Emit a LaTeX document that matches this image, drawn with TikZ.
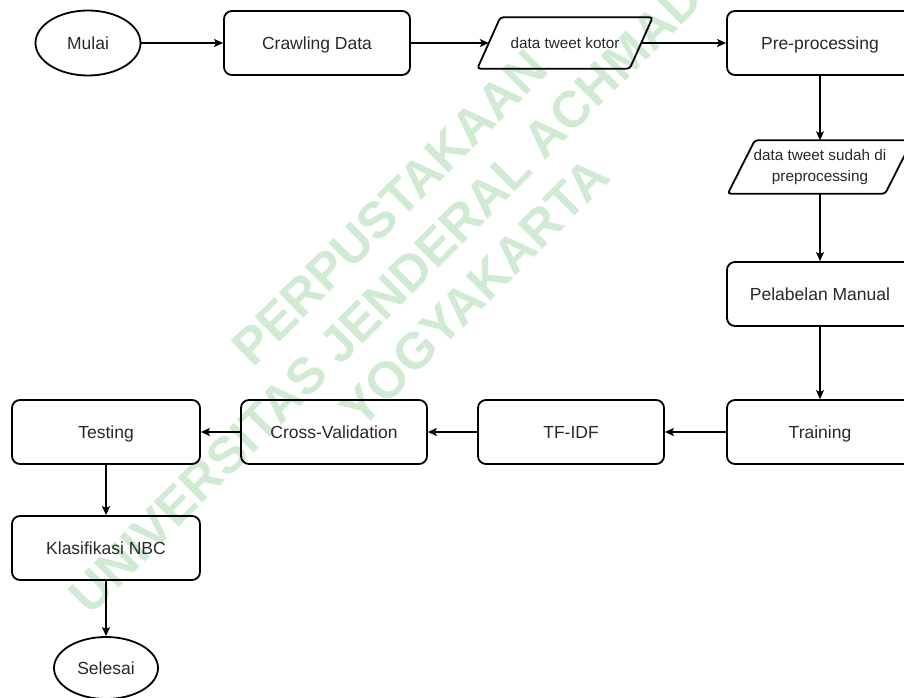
\documentclass[tikz,border=0pt]{standalone}
\usepackage{fontspec}
\setmainfont{Liberation Sans}
\usetikzlibrary{shapes.geometric,arrows.meta}
\definecolor{wmgreen}{RGB}{208,234,211}
\definecolor{txtgray}{RGB}{40,40,40}
% jajar genjang di sekitar node (nama node, setengah geser)
\newcommand{\jajargenjang}[2]{%
    \draw[line width=1.8pt, rounded corners=3pt] ([xshift=-#2]#1.south west) -- ([xshift=#2]#1.north west)
        -- ([xshift=#2]#1.north east) -- ([xshift=-#2]#1.south east) -- cycle;}

\begin{document}
\begin{tikzpicture}[x=1pt, y=-1pt,
    proses/.style={draw, line width=1.8pt, rounded corners=8pt, minimum width=186pt,
        minimum height=64pt, inner sep=0pt, text depth=0pt, text=txtgray, font=\fontsize{17.5}{21}\selectfont},
    terminal/.style={draw, ellipse, line width=1.8pt, minimum width=105pt, minimum height=65pt,
        inner sep=0pt, text depth=0pt, text=txtgray, font=\fontsize{17.5}{21}\selectfont},
    dataio/.style={inner sep=0pt, align=center, text=txtgray, font=\fontsize{15.3}{21}\selectfont},
    panah/.style={-{Stealth[length=9pt, width=8pt, inset=2pt]}, line width=1.2pt}]
    \useasboundingbox (0,0) rectangle (904,698);

    % watermark
    \node[rotate=45, align=center, text=wmgreen, font=\fontsize{51}{60}\selectfont\bfseries]
        (wm) at (432,250) {PERPUSTAKAAN\\UNIVERSITAS JENDERAL ACHMAD YANI\\YOGYAKARTA};

    % baris atas
    \node[terminal] (mulai) at (88,43) {Mulai};
    \node[proses] (crawl) at (317,43) {Crawling Data};
    \node[dataio, minimum width=152pt, minimum height=51pt] (kotor) at (565,43) {data tweet kotor};
    \jajargenjang{kotor}{11.5pt}
    \node[proses] (pre) at (820,43) {Pre-processing};

    % kolom kanan
    \node[dataio, minimum width=157pt, minimum height=53pt] (sudah) at (820,167) {data tweet sudah di\\preprocessing};
    \jajargenjang{sudah}{13.5pt}
    \node[proses] (label) at (820,294) {Pelabelan Manual};
    \node[proses] (train) at (820,432) {Training};

    % baris bawah
    \node[proses] (tfidf) at (571,432) {TF-IDF};
    \node[proses] (cv) at (334,432) {Cross-Validation};
    \node[proses, minimum width=188pt] (test) at (106,432) {Testing};
    \node[proses, minimum width=188pt] (klas) at (106,548) {Klasifikasi NBC};
    \node[terminal, minimum width=104pt, minimum height=62pt] (selesai) at (106,668) {Selesai};

    \draw[panah] (mulai) -- (crawl);
    \draw[panah] (crawl) -- (kotor);
    \draw[panah] (kotor) -- (pre);
    \draw[panah] (pre) -- (sudah);
    \draw[panah] (sudah) -- (label);
    \draw[panah] (label) -- (train);
    \draw[panah] (train) -- (tfidf);
    \draw[panah] (tfidf) -- (cv);
    \draw[panah] (cv) -- (test);
    \draw[panah] (test) -- (klas);
    \draw[panah] (klas) -- (selesai);
\end{tikzpicture}
\end{document}
